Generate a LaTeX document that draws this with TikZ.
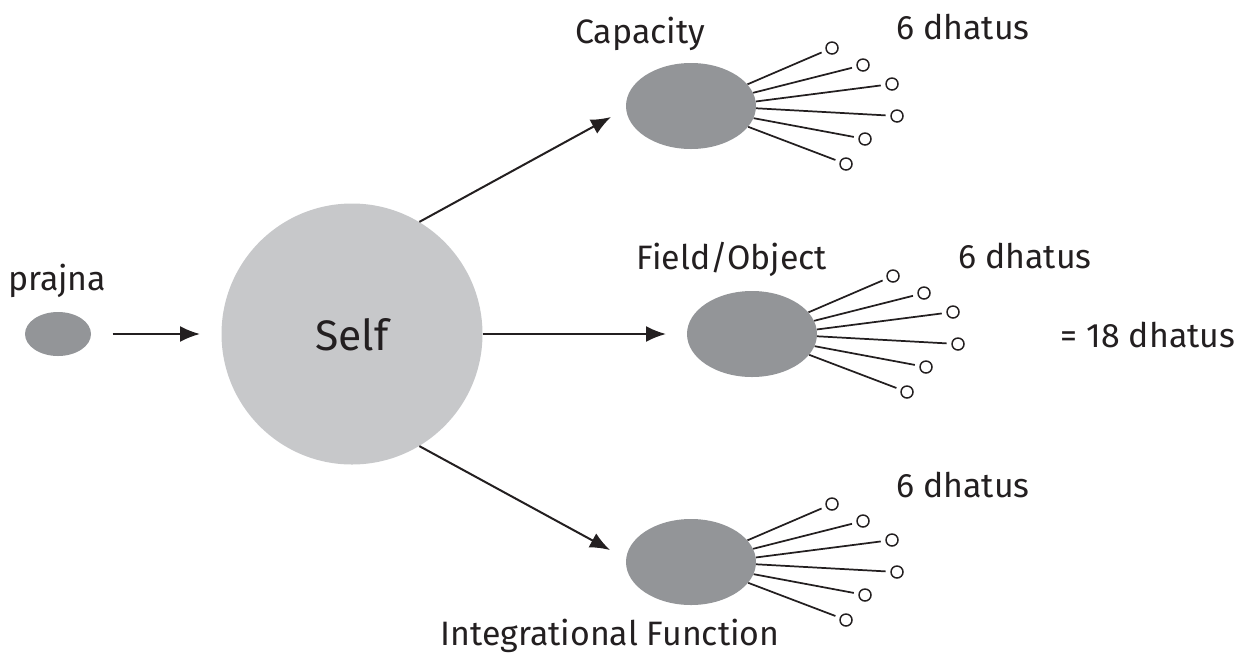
\documentclass[tikz,border=0pt]{standalone}
\usepackage{fontspec}
\setmainfont{Fira Sans}
\usetikzlibrary{arrows.meta,shapes.geometric}
\definecolor{dk}{HTML}{939598}
\definecolor{lt}{HTML}{C7C8CA}
\definecolor{ink}{HTML}{231F20}
\begin{document}
\begin{tikzpicture}[x=0.75pt,y=-0.75pt,
  pra/.style={ellipse, fill=dk, minimum width=49.5pt, minimum height=33pt, inner sep=0},
  blob/.style={ellipse, fill=dk, minimum width=97.5pt, minimum height=64.5pt, inner sep=0},
  selfc/.style={circle, fill=lt, minimum size=195.75pt, inner sep=0},
  lbl/.style={font=\fontsize{25.4}{30}\selectfont, text=ink, anchor=base, inner sep=0},
  big/.style={font=\fontsize{32}{38}\selectfont, text=ink, anchor=base, inner sep=0},
  ray/.style={line width=1.3pt, draw=ink},
  dot/.style={circle, draw=ink, line width=1.1pt, minimum size=9pt, inner sep=0, outer sep=4pt, fill=white},
  arr/.style={line width=1.5pt, draw=ink, -{Latex[length=15pt,width=12pt]}}]
\useasboundingbox (0,0) rectangle (1238,654);
% main shapes
\node[pra] (prajna) at (58,334) {};
\node[selfc] (self) at (352,334) {};
\node[big] (selftxt) at (352,350) {Self};
\node[blob] (cap) at (691,106) {};
\node[blob] (fld) at (752,334) {};
\node[blob] (intg) at (691,562) {};
% labels
\node[lbl] (lprajna) at (57,290) {prajna};
\node[lbl] (lcap) at (640,43) {Capacity};
\node[lbl] (dcap) at (963,39) {6 dhatus};
\node[lbl] (lfld) at (732,269) {Field/Object};
\node[lbl] (dfld) at (1025,268) {6 dhatus};
\node[lbl] (total) at (1148,347) {= 18 dhatus};
\node[lbl] (dintg) at (963,497) {6 dhatus};
\node[lbl] (lintg) at (610,645) {Integrational Function};
% arrow tips
\coordinate (t0) at (200,334);
\coordinate (t1) at (666,334);
\coordinate (t2) at (611,117);
\coordinate (t3) at (610,550);
\draw[arr, shorten <=16pt] (prajna) -- (t0);
\draw[arr] (self) -- (t1);
\draw[arr] (self.59.5) -- (t2);
\draw[arr] (self.-59.5) -- (t3);
% rays
\foreach \e in {cap,fld,intg}{
  \foreach \i/\dx/\dy/\a in {1/141/-58/21, 2/172/-41/12.5, 3/201/-22/4.5, 4/206/10/-2.5, 5/174/33/-11.5, 6/155/58/-20}{
    \node[dot] (\e\i) at ([shift={(\dx,\dy)}]\e) {};
    \draw[ray] (\e.\a) -- (\e\i);
  }
}
\end{tikzpicture}
\end{document}
